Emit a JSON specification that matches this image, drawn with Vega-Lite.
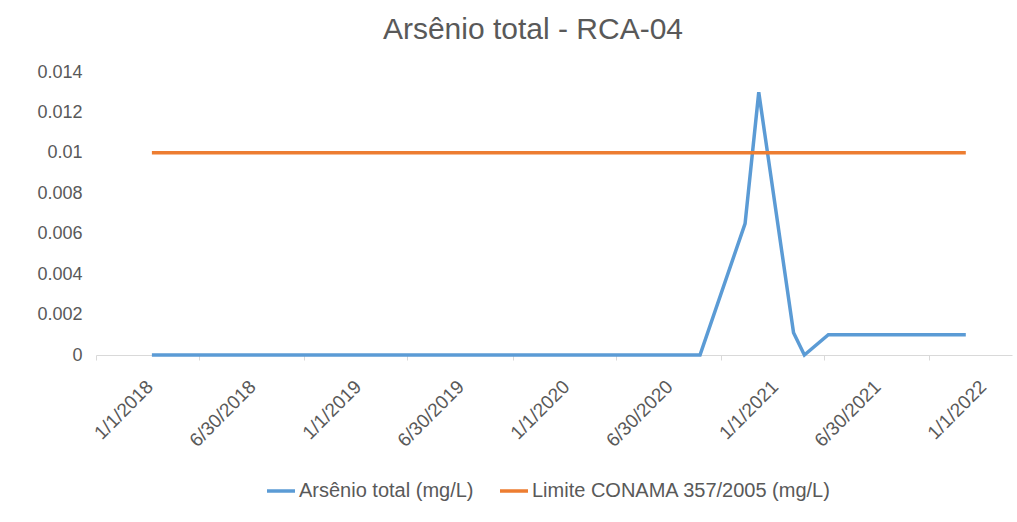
{
  "$schema": "https://vega.github.io/schema/vega-lite/v6.json",
  "autosize": "none",
  "width": 916,
  "height": 283,
  "padding": {"left": 96, "top": 72, "right": 5, "bottom": 167},
  "background": "white",
  "title": {
    "text": "Arsênio total - RCA-04",
    "font": "Liberation Sans",
    "fontSize": 30,
    "fontWeight": "normal",
    "color": "#595959",
    "anchor": "middle",
    "dx": -21,
    "offset": 18
  },
  "data": {
    "values": [
      {"date": "2018-01-04", "value": 0, "series": "Arsênio total (mg/L)"},
      {"date": "2020-08-22", "value": 0, "series": "Arsênio total (mg/L)"},
      {"date": "2020-11-09", "value": 0.0065, "series": "Arsênio total (mg/L)"},
      {"date": "2020-12-03", "value": 0.013, "series": "Arsênio total (mg/L)"},
      {"date": "2021-02-02", "value": 0.0011, "series": "Arsênio total (mg/L)"},
      {"date": "2021-02-21", "value": 0, "series": "Arsênio total (mg/L)"},
      {"date": "2021-04-04", "value": 0.001, "series": "Arsênio total (mg/L)"},
      {"date": "2021-12-01", "value": 0.001, "series": "Arsênio total (mg/L)"},
      {"date": "2018-01-04", "value": 0.01, "series": "Limite CONAMA 357/2005 (mg/L)"},
      {"date": "2021-12-01", "value": 0.01, "series": "Limite CONAMA 357/2005 (mg/L)"}
    ]
  },
  "mark": {"type": "line", "strokeWidth": 3.5},
  "encoding": {
    "x": {
      "field": "date",
      "type": "temporal",
      "scale": {
        "type": "utc",
        "domain": [
          {"year": 2017, "month": 9, "date": 28, "utc": true},
          {"year": 2022, "month": 2, "date": 20, "utc": true}
        ]
      },
      "axis": {
        "title": null,
        "values": [
          {"year": 2018, "month": 1, "date": 1, "utc": true},
          {"year": 2018, "month": 6, "date": 30, "utc": true},
          {"year": 2019, "month": 1, "date": 1, "utc": true},
          {"year": 2019, "month": 6, "date": 30, "utc": true},
          {"year": 2020, "month": 1, "date": 1, "utc": true},
          {"year": 2020, "month": 6, "date": 30, "utc": true},
          {"year": 2021, "month": 1, "date": 1, "utc": true},
          {"year": 2021, "month": 6, "date": 30, "utc": true},
          {"year": 2022, "month": 1, "date": 1, "utc": true}
        ],
        "labelExpr": "utcFormat(datum.value, '%-m/%-d/%Y')",
        "labelAngle": -45,
        "labelAlign": "right",
        "labelBaseline": "top",
        "labelFont": "Liberation Sans",
        "labelFontSize": 19,
        "labelColor": "#595959",
        "labelPadding": 17,
        "labelOffset": 47,
        "tickOffset": -54,
        "tickSize": 5,
        "tickColor": "#d9d9d9",
        "domainColor": "#d9d9d9",
        "grid": false,
        "labelOverlap": false,
        "labelFlush": false
      }
    },
    "y": {
      "field": "value",
      "type": "quantitative",
      "scale": {"domain": [0, 0.014], "nice": false, "zero": true},
      "axis": {
        "title": null,
        "values": [0, 0.002, 0.004, 0.006, 0.008, 0.01, 0.012, 0.014],
        "format": "~g",
        "domain": false,
        "ticks": false,
        "grid": false,
        "labelFont": "Liberation Sans",
        "labelFontSize": 18,
        "labelColor": "#595959",
        "labelPadding": 14
      }
    },
    "color": {
      "field": "series",
      "type": "nominal",
      "scale": {
        "domain": ["Arsênio total (mg/L)", "Limite CONAMA 357/2005 (mg/L)"],
        "range": ["#5B9BD5", "#ED7D31"]
      },
      "legend": {
        "title": null,
        "orient": "none",
        "legendX": 169,
        "legendY": 403,
        "direction": "horizontal",
        "symbolType": "stroke",
        "symbolStrokeWidth": 3.5,
        "symbolSize": 784,
        "labelFont": "Liberation Sans",
        "labelFontSize": 20,
        "labelColor": "#595959",
        "labelOffset": 2,
        "labelLimit": 500,
        "columnPadding": 19
      }
    }
  },
  "config": {"view": {"stroke": null}}
}
